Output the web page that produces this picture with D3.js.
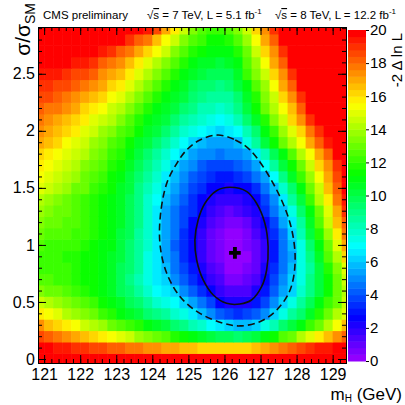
<!DOCTYPE html>
<html><head><meta charset="utf-8">
<script src="https://cdn.jsdelivr.net/npm/d3@7"></script>
<style>
body{margin:0;background:#fff}
svg{display:block}
text{font-family:"Liberation Sans",Arial,Helvetica,sans-serif;fill:#000}
</style>
</head><body>
<svg id="chart" width="405" height="405"></svg>
<script>
// ---- data ----
const massCenters = [120.875,121.125,121.375,121.625,121.875,122.125,122.375,122.625,122.875,123.125,123.375,123.625,123.875,124.125,124.375,124.625,124.875,125.125,125.375,125.625,125.875,126.125,126.375,126.625,126.875,127.125,127.375,127.625,127.875,128.125,128.375,128.625,128.875,129.125,129.375];
const muCenters = [0,0.1,0.2,0.3,0.4,0.5,0.6,0.7,0.8,0.9,1.0,1.1,1.2,1.3,1.4,1.5,1.6,1.7,1.8,1.9,2.0,2.1,2.2,2.3,2.4,2.5,2.6,2.7,2.8,2.9];
// -2 Delta ln L, one row per mu value (rows follow muCenters, columns follow massCenters)
const nll = [
[21.5,21.5,21.6,21.6,21.7,21.7,21.8,21.8,21.9,21.9,22,22,22,22.1,22.1,22.2,22.2,22.3,22.3,22.3,22.3,22.3,22.3,22.3,22.4,22.4,22.5,22.5,22.6,22.6,22.7,22.7,22.8,22.9,23],
[19.8,19.6,19.4,19.2,19.0,18.8,18.6,18.4,18.2,18.0,17.8,17.6,17.4,17.2,17.0,16.8,16.6,16.4,16.3,16.2,16.1,16.05,16.0,16.1,16.4,16.8,17.2,17.6,18.0,18.4,18.8,19.2,19.5,19.8,20.0],
[18.5,18.2,17.8,17.4,17.0,16.6,16.2,15.8,15.4,14.9,14.4,13.9,13.4,12.9,12.4,11.9,11.4,10.9,10.5,10.1,9.8,9.6,9.5,9.7,10.2,10.9,11.6,12.4,13.2,14.0,14.8,15.6,16.4,17.3,18.1],
[17.2,16.7,16.2,15.7,15.2,14.7,14.2,13.7,13.2,12.7,12.2,11.7,11.2,10.6,10.0,9.4,8.8,8.2,7.6,7.0,6.5,6.1,5.85,5.9,6.3,7.4,8.3,9.3,10.3,11.2,12.2,13.2,14.3,15.4,16.4],
[15.8,15.3,14.8,14.3,13.8,13.3,12.8,12.3,11.7,11.1,10.5,10.0,9.5,9.0,8.5,7.9,7.3,6.6,5.8,5.0,4.3,3.8,3.55,3.7,4.3,5.0,6.1,7.3,8.4,9.5,10.6,11.7,12.8,14.0,15.1],
[14.5,14.1,13.7,13.3,12.9,12.5,12.1,11.6,11.1,10.5,9.9,9.2,8.5,7.9,7.3,6.8,6.2,5.3,4.4,3.6,2.7,2.3,2.15,2.3,2.9,3.6,4.8,6.1,7.3,8.5,9.7,10.9,12.0,13.2,14.4],
[13.4,13.1,12.8,12.5,12.2,11.8,11.4,11.0,10.5,9.9,9.2,8.5,7.8,7.1,6.5,6.0,5.1,4.2,3.3,2.5,1.9,1.45,1.25,1.5,2.1,3.0,4.1,5.2,6.3,7.6,8.9,10.2,11.5,12.9,14.2],
[12.7,12.5,12.3,12.1,11.9,11.6,11.3,10.9,10.4,9.8,9.1,8.3,7.5,6.7,6.0,5.1,4.2,3.3,2.5,1.8,1.2,0.75,0.55,0.85,1.45,2.4,3.6,4.8,6.05,7.4,8.8,10.2,11.6,13.0,14.5],
[12.3,12.2,12.1,12.0,11.8,11.6,11.3,10.9,10.5,9.9,9.2,8.4,7.5,6.6,5.7,4.7,3.8,2.9,2.1,1.4,0.8,0.35,0.2,0.5,1.1,2.0,3.2,4.5,5.7,7.2,8.7,10.3,11.9,13.5,15.1],
[12.2,12.1,12.0,11.9,11.8,11.6,11.3,11.0,10.6,10.0,9.3,8.4,7.4,6.5,5.4,4.4,3.5,2.6,1.7,1.0,0.45,0.1,0.05,0.35,0.95,1.9,3.1,4.4,5.6,7.2,9.0,10.7,12.5,14.2,16.0],
[12.4,12.3,12.2,12.1,12.0,11.8,11.5,11.2,10.8,10.2,9.5,8.6,7.6,6.4,5.3,4.3,3.4,2.5,1.7,1.0,0.5,0.15,0.1,0.4,1.0,1.9,3.1,4.4,5.7,7.4,9.3,11.2,13.1,15.0,16.9],
[12.8,12.7,12.6,12.4,12.2,12.0,11.7,11.3,10.9,10.3,9.6,8.7,7.7,6.5,5.4,4.4,3.5,2.6,1.8,1.1,0.6,0.25,0.3,0.65,1.2,2.0,3.3,4.7,6.1,8.0,10.0,11.9,13.8,15.7,17.6],
[13.3,13.1,12.9,12.7,12.4,12.1,11.8,11.4,11.0,10.4,9.7,8.8,7.8,6.6,5.5,4.5,3.6,2.8,2.1,1.4,0.95,0.65,0.7,1.05,1.6,2.5,3.8,5.2,6.5,8.4,10.4,12.4,14.4,16.4,18.3],
[13.8,13.5,13.2,12.9,12.6,12.2,11.8,11.4,11.0,10.4,9.7,8.8,7.8,6.7,5.6,4.7,3.9,3.2,2.5,1.9,1.4,1.15,1.2,1.6,2.2,3.2,4.6,5.9,7.3,9.2,11.1,13.0,14.9,16.9,18.8],
[14.3,13.9,13.5,13.1,12.7,12.3,11.9,11.5,11.0,10.4,9.7,8.8,7.8,6.8,5.8,4.9,4.1,3.4,2.8,2.3,1.9,1.75,1.8,2.1,2.6,3.6,5.0,6.5,8.4,10.3,12.2,14.0,15.8,17.6,19.3],
[14.8,14.4,14.0,13.6,13.2,12.8,12.3,11.8,11.3,10.7,10.0,9.1,8.2,7.2,6.2,5.3,4.5,3.8,3.2,2.8,2.5,2.35,2.4,2.8,3.5,4.6,5.9,7.6,9.4,11.2,13.0,14.7,16.4,18.1,19.8],
[15.3,14.9,14.5,14.1,13.6,13.1,12.6,12.1,11.6,11.0,10.3,9.5,8.6,7.6,6.6,5.7,4.9,4.2,3.6,3.2,3.0,3.0,3.2,3.7,4.5,5.6,7.1,8.8,10.5,12.1,13.7,15.3,16.9,18.5,20.1],
[15.8,15.4,15.0,14.5,14.0,13.5,13.0,12.5,11.9,11.3,10.6,9.9,9.0,8.1,7.2,6.3,5.5,4.8,4.3,3.95,3.8,3.85,4.1,4.7,5.6,7.0,8.6,10.1,11.6,13.1,14.6,16.0,17.5,19.0,20.4],
[16.3,15.9,15.5,15.0,14.5,14.0,13.5,12.9,12.3,11.7,11.0,10.3,9.5,8.7,7.9,7.1,6.2,5.5,5.0,4.8,4.7,4.8,5.1,5.6,6.7,8.2,9.7,11.2,12.6,14.0,15.4,16.8,18.2,19.6,20.8],
[16.8,16.4,16.0,15.5,15.0,14.5,13.9,13.3,12.7,12.1,11.4,10.7,10.0,9.3,8.5,7.7,6.9,6.2,5.8,5.6,5.5,5.6,5.95,7.2,8.6,10.0,11.4,12.8,14.2,15.5,16.9,18.2,19.5,20.5,21.2],
[17.3,16.9,16.5,16.1,15.6,15.1,14.5,13.9,13.3,12.7,12.0,11.3,10.6,10.0,9.3,8.6,7.9,7.3,6.9,6.5,6.3,6.5,7.1,8.1,9.5,10.9,12.3,13.6,15.0,16.3,17.7,19.0,20.2,21.0,21.7],
[17.7,17.4,17.0,16.6,16.2,15.7,15.1,14.6,14.0,13.3,12.6,11.9,11.2,10.6,10.0,9.3,8.7,8.2,7.6,7.2,7.0,7.3,8.0,9.3,10.6,11.9,13.3,14.6,16.0,17.4,18.9,20.1,20.8,21.4,22.0],
[18.2,17.9,17.6,17.2,16.8,16.3,15.8,15.3,14.7,14.0,13.3,12.5,11.8,11.1,10.5,10.0,9.4,8.8,8.3,8.0,7.7,8.0,8.8,10.0,11.5,12.8,14.0,15.3,16.7,18.1,19.6,20.5,21.1,21.7,22.2],
[18.6,18.4,18.2,17.8,17.4,17.0,16.5,16.0,15.4,14.8,14.1,13.4,12.5,11.8,11.1,10.5,10.0,9.4,8.9,8.6,8.4,8.7,9.4,10.6,11.9,13.3,14.6,16.0,17.4,18.9,20.0,20.8,21.4,22.0,22.4],
[19.0,18.9,18.7,18.4,18.1,17.8,17.3,16.8,16.2,15.6,14.9,14.1,13.3,12.6,11.8,11.1,10.5,9.9,9.5,9.2,9.0,9.3,10.0,11.2,12.6,13.9,15.4,16.8,18.2,19.6,20.5,21.2,21.8,22.3,22.8],
[19.4,19.3,19.2,19.0,18.7,18.4,18.0,17.5,16.9,16.4,15.7,14.9,14.1,13.4,12.6,11.8,11.1,10.5,10.1,9.8,9.6,9.9,10.7,12.0,13.3,14.6,16.0,17.4,19.0,20.2,21.0,21.7,22.3,22.8,23.3],
[19.8,19.8,19.8,19.7,19.5,19.2,18.8,18.3,17.9,17.3,16.6,15.9,15.1,14.3,13.4,12.6,11.9,11.2,10.7,10.4,10.2,10.5,11.2,12.5,13.8,15.3,16.8,18.3,19.8,20.8,21.6,22.2,22.8,23.3,23.8],
[20.2,20.2,20.2,20.1,20.1,20.0,19.8,19.3,18.8,18.3,17.6,16.8,16.1,15.3,14.4,13.5,12.7,11.9,11.3,11.0,10.8,11.1,11.8,13.0,14.4,16.0,17.4,18.9,20.4,21.3,22.0,22.5,23.0,23.5,24.0],
[20.6,20.6,20.5,20.5,20.4,20.3,20.2,20.1,20.0,19.6,19.1,18.3,17.6,16.6,15.4,14.4,13.5,12.6,12.0,11.6,11.4,11.8,12.6,13.8,15.3,16.8,18.3,19.7,21.0,21.8,22.5,23.0,23.5,24.0,24.0],
[21.0,21.0,20.9,20.8,20.7,20.6,20.5,20.4,20.3,20.2,20.1,19.9,19.4,18.5,17.1,15.8,14.5,13.3,12.5,12.1,12.0,12.4,13.3,14.5,16.0,17.5,19.0,20.3,21.3,22.0,22.5,23.0,23.5,24.0,24.0]
];
// 68% CL (solid) and 95% CL (dashed) contours, [mH, mu]
const contour68 = [[126.15,1.505],[126.62,1.467],[126.89,1.365],[127.12,1.19],[127.21,0.985],[127.17,0.78],[127.03,0.634],[126.75,0.517],[126.43,0.482],[126.06,0.488],[125.69,0.561],[125.41,0.693],[125.23,0.868],[125.18,1.043],[125.27,1.219],[125.46,1.365],[125.78,1.475]];
const contour95 = [[125.82,1.963],[126.30,1.92],[126.71,1.832],[127.35,1.54],[127.82,1.19],[127.96,0.868],[127.82,0.605],[127.45,0.43],[126.98,0.327],[126.43,0.29],[125.97,0.313],[125.32,0.4],[124.77,0.546],[124.4,0.751],[124.22,0.984],[124.22,1.247],[124.4,1.54],[124.68,1.715],[124.95,1.832],[125.32,1.92]];
const bestFit = [126.29, 0.93];
const xTicks = [121,122,123,124,125,126,127,128,129];
const yTicks = [0,0.5,1,1.5,2,2.5];
const zTicks = [0,2,4,6,8,10,12,14,16,18,20];

// ---- layout ----
const massHalf = 0.125, muHalf = 0.05;
const L = 38, R = 346, T = 27, B = 363;
const svg = d3.select("#chart");
const x = d3.scaleLinear().domain([120.83, 129.37]).range([L, R]);
const y = d3.scaleLinear().domain([-0.035, 2.91]).range([B, T]);
const z = d3.scaleLinear().domain([0, 20]).range([361, 30]);
const nCol = 50;
function color(v){
  const i = Math.max(0, Math.min(nCol-1, Math.floor(v/20*nCol)));
  return d3.hsl(280 - (i+1)*(280/nCol), 1, 0.5).formatHex();
}

svg.append("defs").append("clipPath").attr("id","clip")
  .append("rect").attr("x",L).attr("y",T).attr("width",R-L).attr("height",B-T);

const cells = [];
nll.forEach((row, r) => row.forEach((v, c) => cells.push({m: massCenters[c], mu: muCenters[r], v})));
svg.append("g").attr("clip-path","url(#clip)")
  .selectAll("rect").data(cells).join("rect")
  .attr("x", d => x(d.m - massHalf))
  .attr("y", d => y(d.mu + muHalf))
  .attr("width", d => x(d.m + massHalf) - x(d.m - massHalf) + 0.6)
  .attr("height", d => y(d.mu - muHalf) - y(d.mu + muHalf) + 0.6)
  .attr("fill", d => color(d.v));

// contours
const line = d3.line().x(d => x(d[0])).y(d => y(d[1])).curve(d3.curveCatmullRomClosed.alpha(0.5));
svg.append("path").attr("d", line(contour95)).attr("fill","none").attr("stroke","#111")
  .attr("stroke-width",1.6).attr("stroke-dasharray","7,4");
svg.append("path").attr("d", line(contour68)).attr("fill","none").attr("stroke","#111")
  .attr("stroke-width",1.6);
svg.append("path").attr("d", d3.symbol(d3.symbolCross, 75)())
  .attr("transform", `translate(${x(bestFit[0])},${y(bestFit[1])})`).attr("fill","#000");

// axes
function styleAxis(g){
  g.selectAll(".domain").attr("stroke","#000").attr("stroke-width",1);
  g.selectAll(".tick line").attr("stroke","#000");
}
const gx = svg.append("g").attr("transform",`translate(0,${B})`)
  .call(d3.axisBottom(x).tickValues(xTicks).tickSize(-8).tickPadding(6).tickFormat(d3.format("d")));
gx.selectAll("text").attr("font-size",16).attr("fill","#000");
styleAxis(gx);
svg.append("g").attr("transform",`translate(0,${B})`)
  .call(d3.axisBottom(x).tickValues(x.ticks(40)).tickSize(-4).tickFormat("")).call(styleAxis);
svg.append("g").attr("transform",`translate(0,${T})`)
  .call(d3.axisTop(x).tickValues(xTicks).tickSize(-8).tickFormat("")).call(styleAxis);
svg.append("g").attr("transform",`translate(0,${T})`)
  .call(d3.axisTop(x).tickValues(x.ticks(40)).tickSize(-4).tickFormat("")).call(styleAxis);

const gy = svg.append("g").attr("transform",`translate(${L},0)`)
  .call(d3.axisLeft(y).tickValues(yTicks).tickSize(-8).tickPadding(3).tickFormat(d => String(d)));
gy.selectAll("text").attr("font-size",16).attr("fill","#000");
styleAxis(gy);
svg.append("g").attr("transform",`translate(${L},0)`)
  .call(d3.axisLeft(y).tickValues(y.ticks(30)).tickSize(-4).tickFormat("")).call(styleAxis);
svg.append("g").attr("transform",`translate(${R},0)`)
  .call(d3.axisRight(y).tickValues(yTicks).tickSize(-8).tickFormat("")).call(styleAxis);
svg.append("g").attr("transform",`translate(${R},0)`)
  .call(d3.axisRight(y).tickValues(y.ticks(30)).tickSize(-4).tickFormat("")).call(styleAxis);

// colour bar
const zStep = 20 / nCol;
const bands = d3.range(nCol).map(i => i * zStep);
svg.append("g").selectAll("rect").data(bands).join("rect")
  .attr("x",348).attr("width",18)
  .attr("y", d => z(d + zStep)).attr("height", d => z(d) - z(d + zStep) + 0.5)
  .attr("fill", d => color(d + zStep/2));
const gz = svg.append("g").attr("transform","translate(366,0)")
  .call(d3.axisRight(z).tickValues(zTicks).tickSize(3).tickPadding(1).tickFormat(d3.format("d")));
gz.select(".domain").remove();
gz.selectAll(".tick line").attr("stroke","#000");
gz.selectAll("text").attr("font-size",15).attr("fill","#000");

// titles
svg.append("text").attr("transform","translate(402,33) rotate(-90)")
  .attr("text-anchor","end").attr("font-size",15).text("-2 \u0394 ln L");

const yt = svg.append("text").attr("transform","translate(30,3) rotate(-90)")
  .attr("text-anchor","end").attr("font-size",21);
yt.append("tspan").text("\u03C3/\u03C3");
yt.append("tspan").attr("font-size",14).attr("dy",5).text("SM");

const xt = svg.append("text").attr("x",402).attr("y",400).attr("text-anchor","end").attr("font-size",17);
xt.append("tspan").text("m");
xt.append("tspan").attr("font-size",10).attr("dy",2).text("H");
xt.append("tspan").attr("dy",-2).text(" (GeV)");

// header
svg.append("text").attr("x",43).attr("y",19).attr("font-size",11.5).text("CMS preliminary");
function lumi(xpos, e, l){
  const t = svg.append("text").attr("x",xpos).attr("y",19).attr("font-size",11.5);
  t.append("tspan").text("\u221A");
  t.append("tspan").style("text-decoration","overline").text("s");
  t.append("tspan").text(` = ${e} TeV, L = ${l} fb`);
  t.append("tspan").attr("font-size",8).attr("dy",-5).text("-1");
}
lumi(147, 7, "5.1");
lumi(275, 8, "12.2");
</script>
</body></html>
